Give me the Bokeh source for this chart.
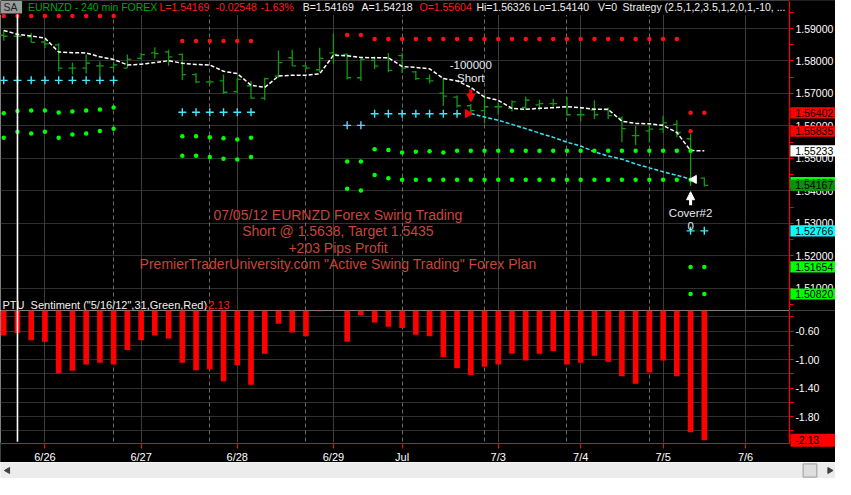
import math
from bokeh.plotting import figure
from bokeh.layouts import column
from bokeh.models import (Range1d, FixedTicker, NumeralTickFormatter, Grid, Label, LinearAxis,
                          ColumnDataSource, Arrow, NormalHead, BoxAnnotation)
from bokeh.transform import dodge
from bokeh.core.properties import value
from bokeh.embed import file_html
from bokeh.resources import INLINE

FONT = "Liberation Sans"

# ---------------- data (EURNZD 240 min bars, index 0..51) ----------------
bars = list(range(52))
opens = [1.58792, 1.58762, 1.58741, 1.58584, 1.58494, 1.57780, 1.57780, 1.57849, 1.57801, 1.57780,
         1.58078, 1.58247, 1.58277, 1.58206, 1.57581, 1.57355, 1.57385, 1.57057, 1.57236, 1.56858,
         1.57533, 1.58099, 1.57849, 1.57730, 1.58247, 1.58206, 1.57483, 1.58018, 1.58099, 1.58167,
         1.57661, 1.57453, 1.57007, 1.56888, 1.56620, 1.56471, 1.56590, 1.56540, 1.56569, 1.56650,
         1.56688, 1.56590, 1.56343, 1.56492, 1.56492, 1.56242, 1.55698, 1.55846, 1.55897, 1.56046,
         1.55604, 1.54389]
highs = [1.58940, 1.58881, 1.58872, 1.58658, 1.58545, 1.57950, 1.58197, 1.57980, 1.57950, 1.58197,
         1.58247, 1.58426, 1.58345, 1.58227, 1.57632, 1.57423, 1.57581, 1.57483, 1.57385, 1.57483,
         1.58325, 1.58345, 1.57878, 1.58405, 1.58842, 1.58227, 1.58078, 1.58137, 1.58247, 1.58256,
         1.57691, 1.57581, 1.57483, 1.56938, 1.56679, 1.56986, 1.56709, 1.56790, 1.56909, 1.56807,
         1.56837, 1.56888, 1.56540, 1.56790, 1.56569, 1.56293, 1.55995, 1.56046, 1.56314, 1.56174,
         1.55757, 1.54410]
lows = [1.58622, 1.58673, 1.58575, 1.58396, 1.57682, 1.57581, 1.57617, 1.57533, 1.57730, 1.57780,
        1.58048, 1.58078, 1.57849, 1.57414, 1.57313, 1.57275, 1.56986, 1.57016, 1.56837, 1.56790,
        1.57483, 1.57849, 1.57730, 1.57652, 1.57908, 1.57432, 1.57385, 1.57750, 1.57652, 1.57632,
        1.57414, 1.57304, 1.56620, 1.56560, 1.56322, 1.56076, 1.56352, 1.56442, 1.56492, 1.56471,
        1.56590, 1.56314, 1.56144, 1.56212, 1.56212, 1.55498, 1.55400, 1.55498, 1.55778, 1.55647,
        1.54151, 1.54130]
closes = [1.58762, 1.58762, 1.58575, 1.58524, 1.57780, 1.57780, 1.57929, 1.57849, 1.57878, 1.58048,
          1.58197, 1.58227, 1.58128, 1.57581, 1.57355, 1.57355, 1.57036, 1.57432, 1.56858, 1.57453,
          1.57950, 1.57849, 1.57780, 1.58078, 1.58206, 1.57483, 1.58048, 1.57840, 1.57712, 1.57780,
          1.57453, 1.57385, 1.56918, 1.56620, 1.56471, 1.56590, 1.56590, 1.56739, 1.56790, 1.56688,
          1.56688, 1.56343, 1.56343, 1.56343, 1.56314, 1.55915, 1.55698, 1.55897, 1.56093, 1.55796,
          1.54329, 1.54169]

# white trailing line
trail = [1.58940, 1.58822, 1.58771, 1.58703, 1.58277, 1.58256, 1.58247, 1.58128, 1.58048, 1.57878,
         1.57899, 1.57950, 1.58009, 1.57929, 1.57890, 1.57878, 1.57682, 1.57611, 1.57254, 1.57185,
         1.57533, 1.57563, 1.57563, 1.57602, 1.58176, 1.58158, 1.58107, 1.58099, 1.58099, 1.57831,
         1.57801, 1.57759, 1.57462, 1.57385, 1.57185, 1.56888, 1.56790, 1.56540, 1.56510, 1.56540,
         1.56560, 1.56590, 1.56560, 1.56510, 1.56510, 1.56144, 1.56076, 1.56064, 1.56016, 1.55796,
         1.55240, 1.55233]

# cyan target line (during the short trade)
cyan_bars = [34, 35, 36, 37, 38, 39, 40, 41, 42, 43, 44, 45, 46, 47, 48, 49, 50]
cyan_vals = [1.56380, 1.56272, 1.56174, 1.56046, 1.55915, 1.55778, 1.55647, 1.55498, 1.55379,
             1.55201, 1.55073, 1.54975, 1.54826, 1.54707, 1.54588, 1.54478, 1.54359]

# cyan crosses
cross_bars = [0, 1, 2, 3, 4, 5, 6, 7, 8, 13, 14, 15, 16, 17, 18, 25, 26,
              27, 28, 29, 30, 31, 32, 33, 50, 51]
cross_vals = [1.57402, 1.57402, 1.57402, 1.57402, 1.57402, 1.57402, 1.57402, 1.57402, 1.57402,
              1.56421, 1.56421, 1.56421, 1.56421, 1.56421, 1.56421, 1.56016, 1.56016,
              1.56373, 1.56373, 1.56373, 1.56373, 1.56373, 1.56373, 1.56373, 1.52766, 1.52766]

# red dots
red_bars = [0, 1, 2, 3, 4, 5, 6, 7, 8, 13, 14, 15, 16, 17, 18, 25, 26,
            27, 28, 29, 30, 31, 32, 33, 34, 35, 36, 37, 38, 39, 40, 41, 42, 43, 44, 45, 46, 47, 48, 49,
            50, 51, 50]
red_vals = [1.59387, 1.59387, 1.59387, 1.59387, 1.59387, 1.59387, 1.59387, 1.59387, 1.59387,
            1.58613, 1.58613, 1.58613, 1.58613, 1.58613, 1.58613, 1.58801, 1.58801,
            1.58673, 1.58673, 1.58673, 1.58673, 1.58673, 1.58673, 1.58673, 1.58673, 1.58673, 1.58673,
            1.58673, 1.58673, 1.58673, 1.58673, 1.58673, 1.58673, 1.58673, 1.58673, 1.58673, 1.58673,
            1.58673, 1.58673, 1.58673,
            1.56402, 1.56402, 1.55835]

# green dots
green_bars = [0, 1, 2, 3, 4, 5, 6, 7, 8,
              0, 1, 2, 3, 4, 5, 6, 7, 8,
              13, 14, 15, 16, 17, 18,
              13, 14, 15, 16, 17, 18,
              25, 26, 25, 26,
              27, 28, 29, 30, 31, 32, 33, 34, 35, 36, 37, 38, 39, 40, 41, 42, 43, 44, 45, 46, 47, 48, 49, 50,
              27, 28, 29, 30, 31, 32, 33, 34, 35, 36, 37, 38, 39, 40, 41, 42, 43, 44, 45, 46, 47, 48, 49, 50,
              50, 51, 50, 51]
green_vals = [1.56391, 1.56462, 1.56471, 1.56471, 1.56412, 1.56442, 1.56471, 1.56501, 1.56569,
              1.55638, 1.55817, 1.55766, 1.55817, 1.55638, 1.55737, 1.55766, 1.55846, 1.55915,
              1.55677, 1.55677, 1.55647, 1.55617, 1.55579, 1.55638,
              1.55082, 1.55082, 1.55043, 1.54984, 1.54963, 1.55043,
              1.54903, 1.54903, 1.54061, 1.54011,
              1.55281, 1.55260, 1.55183, 1.55201, 1.55222, 1.55183, 1.55231, 1.55231, 1.55231, 1.55231,
              1.55231, 1.55231, 1.55231, 1.55231, 1.55231, 1.55231, 1.55231, 1.55231, 1.55231, 1.55231,
              1.55231, 1.55231, 1.55231, 1.55231,
              1.54487, 1.54389, 1.54338, 1.54338, 1.54338, 1.54338, 1.54338, 1.54338, 1.54338, 1.54338,
              1.54338, 1.54338, 1.54338, 1.54338, 1.54338, 1.54338, 1.54338, 1.54338, 1.54338, 1.54338,
              1.54338, 1.54338, 1.54338, 1.54338,
              1.51654, 1.51654, 1.50820, 1.50820]

# PTU_Sentiment histogram
sentiment = [-0.660, -0.627, -0.728, -0.750, -1.189, -1.157, -1.067, -1.044, -1.067, -0.863,
             -0.728, -0.660, -0.705, -1.044, -1.148, -1.135, -1.302, -1.080, -1.352, -0.918,
             -0.497, -0.619, -0.673, -0.320, -0.200, -0.750, -0.379, -0.478, -0.538, -0.555,
             -0.650, -0.673, -0.962, -1.121, -1.216, -1.098, -1.067, -0.918, -1.012, -0.918,
             -0.877, -1.067, -1.044, -0.945, -1.030, -1.234, -1.338, -1.180, -1.012, -1.234,
             -2.017, -2.130]

# trade
entry_bar, entry_price = 34, 1.5638
exit_bar, exit_price = 50, 1.5435
cursor_bar = 1

# axes
price_ticks = [1.51, 1.52, 1.53, 1.54, 1.55, 1.56, 1.57, 1.58, 1.59]
price_minor = [1.505, 1.515, 1.525, 1.535, 1.545, 1.555, 1.565, 1.575, 1.585, 1.595]
sent_ticks = [-0.6, -1.0, -1.4, -1.8]
sent_minor = [-0.4, -0.8, -1.2, -1.6, -2.0]
sent_grid = [-0.4, -0.6, -0.8, -1.0, -1.2, -1.4, -1.6, -1.8, -2.0]
date_ticks = [3, 10, 17, 24, 29, 36, 42, 48, 54]
date_labels = ["6/26", "6/27", "6/28", "6/29", "Jul", "7/3", "7/4", "7/5", "7/6"]
day_lines = [3, 10, 17, 24, 36, 42, 48, 54]
session_breaks = [8, 15, 22, 29, 35, 41, 47]

price_box_vals = [1.56402, 1.55835, 1.55233, 1.54252, 1.54167, 1.52766, 1.51654, 1.50820]
price_box_cols = ["#ff0000", "#ff0000", "#ffffff", "#00ff00", "#0a900a", "#00ffff", "#00ff00", "#00ff00"]
sent_last = -2.13

# ---------------- layout helpers (reference pixel -> data position) -------
def xpos(px):
    return (px - 3.3) / 14.0

def ypos(py):
    return 1.59 - (py - 29) / 3361.0

def spos(py):
    return -0.6 - (py - 342.3) / 73.67

PX_PRICE = 1 / 3361.0      # price units per reference pixel
PX_SENT = 1 / 73.67        # sentiment units per reference pixel

W = 835
GREEN_BAR = "#119a11"
AXIS_FS = "10.5px"
x_lo, x_hi = xpos(0), xpos(851)
x_axis_at = xpos(804)
s_top, s_axis, s_bottom = spos(321), spos(458), spos(478)

common = dict(output_backend="svg", toolbar_location=None, background_fill_color="black",
              border_fill_color="black", outline_line_color=None,
              min_border_left=0, min_border_right=0, min_border_top=0, min_border_bottom=0)


def style_yaxis(ax, ticks, minor, fmt):
    ax.ticker = FixedTicker(ticks=ticks, minor_ticks=minor)
    ax.formatter = NumeralTickFormatter(format=fmt)
    ax.axis_line_color = "red"
    ax.axis_line_width = 1.2
    ax.major_tick_line_color = "red"
    ax.minor_tick_line_color = "red"
    ax.major_tick_in = 0
    ax.major_tick_out = 4
    ax.minor_tick_in = 0
    ax.minor_tick_out = 4
    ax.major_label_text_color = "white"
    ax.major_label_text_font = FONT
    ax.major_label_text_font_size = AXIS_FS
    ax.major_label_standoff = 2


def add_vgrids(fig):
    fig.add_layout(Grid(dimension=0, ticker=FixedTicker(ticks=day_lines), grid_line_color="#3c3c3c"))
    fig.add_layout(Grid(dimension=0, ticker=FixedTicker(ticks=session_breaks),
                        grid_line_color="#6a6a6a", grid_line_dash="4 3"))


def value_box(fig, v, text, color, half_h):
    fig.add_layout(BoxAnnotation(left=xpos(805), right=x_hi + 1, top=v + half_h, bottom=v - half_h,
                                 fill_color=color, fill_alpha=1.0, line_color=None))
    fig.add_layout(Label(x=xpos(810), y=v, text=text, text_color="black", text_font=FONT,
                         text_font_size=AXIS_FS, text_baseline="middle", text_align="left"))


xr = Range1d(x_lo, x_hi)

# ---------------- price panel ----------------
p = figure(width=W, height=310, x_range=xr, y_range=Range1d(ypos(321), ypos(0)),
           x_axis_location=None, y_axis_location=None, **common)
p.xgrid.visible = False
p.ygrid.visible = False
p.add_layout(Grid(dimension=1, ticker=FixedTicker(ticks=price_ticks), grid_line_color="#303030"))
add_vgrids(p)
pya = LinearAxis(fixed_location=x_axis_at)
style_yaxis(pya, price_ticks, price_minor, "0.00000")
p.add_layout(pya, "right")

# header background, axis area background, SA box
p.quad(left=[x_lo - 1], right=[x_hi + 1], top=[ypos(-3)], bottom=[ypos(14.5)], color="black")
p.quad(left=[x_axis_at], right=[x_hi + 1], top=[ypos(-3)], bottom=[ypos(330)], color="black")
p.quad(left=[xpos(0)], right=[xpos(22)], top=[ypos(0.5)], bottom=[ypos(13.5)],
       fill_color="#9a9a9a", line_color=None)

src = ColumnDataSource(dict(bar=bars, o=opens, h=highs, l=lows, c=closes))
p.segment(x0="bar", y0="l", x1="bar", y1="h", source=src, line_color=GREEN_BAR, line_width=1.3)
p.segment(x0=dodge("bar", -0.28), y0="o", x1="bar", y1="o", source=src, line_color=GREEN_BAR, line_width=1.3)
p.segment(x0="bar", y0="c", x1=dodge("bar", 0.28), y1="c", source=src, line_color=GREEN_BAR, line_width=1.3)

p.line(bars, trail, line_color="white", line_width=1.5, line_dash="4 2")
p.line(cyan_bars, cyan_vals, line_color="#38e4f4", line_width=1.5, line_dash="4 2")
p.scatter(cross_bars, cross_vals, marker="cross", size=8, line_color="#40e8ff", line_width=1.4)
p.scatter(red_bars, red_vals, marker="circle", size=4.5, fill_color="#ff1010", line_color=None)
p.scatter(green_bars, green_vals, marker="circle", size=4.5, fill_color="#00ff00", line_color=None)

# trade markers
tsrc = ColumnDataSource(dict(bar=[entry_bar], y=[entry_price]))
p.scatter(x=dodge("bar", -0.22), y="y", source=tsrc, marker="triangle", angle=-math.pi / 2,
          size=8, fill_color="red", line_color="red")
csrc = ColumnDataSource(dict(bar=[exit_bar], y=[exit_price]))
p.scatter(x=dodge("bar", 0.25), y="y", source=csrc, marker="triangle", angle=math.pi / 2,
          size=8, fill_color="white", line_color="white")
p.add_layout(Arrow(end=NormalHead(size=8, fill_color="red", line_color="red"),
                   x_start=entry_bar, y_start=ypos(92), x_end=entry_bar, y_end=ypos(105),
                   line_color="red", line_width=3))
p.add_layout(Arrow(end=NormalHead(size=8, fill_color="white", line_color="white"),
                   x_start=exit_bar, y_start=ypos(212), x_end=exit_bar, y_end=ypos(198),
                   line_color="white", line_width=3))
p.text(x=[entry_bar, entry_bar, exit_bar, exit_bar],
       y=[ypos(66.5), ypos(80.5), ypos(220.5), ypos(233.5)],
       text=["-100000", "Short", "Cover#2", "0"], text_color="#e6ecf5",
       text_font=value(FONT), text_font_size="11.5px", text_align="center", text_baseline="middle")

# cursor line
p.segment(x0=[cursor_bar], y0=[ypos(14.5)], x1=[cursor_bar], y1=[ypos(321)],
          line_color="white", line_width=1.6)

# annotation text
note_lines = ["07/05/12 EURNZD Forex Swing Trading", "Short @ 1.5638, Target 1.5435",
              "+203 Pips Profit",
              "PremierTraderUniversity.com \"Active Swing Trading\" Forex Plan"]
p.text(x=[xpos(344)] * 4, y=[ypos(221.7), ypos(239), ypos(256.7), ypos(273.3)], text=note_lines,
       text_color="#c4473a", text_font=value(FONT), text_font_size="14px",
       text_align="center", text_baseline="middle")

# header text
hdr_x = [3, 28, 123, 162, 219, 265, 308, 368, 427, 485, 543, 609, 634]
hdr_t = ["SA", "EURNZD - 240 min", "FOREX", "L=1.54169", "-0.02548", "-1.63%", "B=1.54169",
         "A=1.54218", "O=1.55604", "Hi=1.56326", "Lo=1.54140", "V=0",
         "Strategy (2.5,1,2,3.5,1,2,0,1,-10, ..."]
hdr_c = ["#1e1e1e", "#00a800", "#00a800", "#ff1c1c", "#ff1c1c", "#ff1c1c", "#f0f0f0", "#f0f0f0",
         "#ff1c1c", "#f0f0f0", "#f0f0f0", "#f0f0f0", "#f0f0f0"]
p.text(x=[xpos(v) for v in hdr_x], y=[ypos(7)] * len(hdr_x), text=hdr_t, text_color=hdr_c,
       text_font=value(FONT), text_font_size="10.5px", text_align="left", text_baseline="middle")

# indicator title
p.text(x=[xpos(2), xpos(208)], y=[ypos(315)] * 2,
       text=["PTU_Sentiment (\"5/16/12\",31,Green,Red)", "-2.13"], text_color=["#f0f0f0", "#ff1c1c"],
       text_font=value(FONT), text_font_size="11px", text_align="left", text_baseline="middle")

for v, c in zip(price_box_vals, price_box_cols):
    value_box(p, v, f"{v:.5f}", c, 5.8 * PX_PRICE)

# ---------------- indicator panel (frame includes the date-label strip) ----------------
p2 = figure(width=W, frame_height=152, x_range=xr, y_range=Range1d(s_bottom, s_top),
            y_axis_location=None, x_axis_location=None, **common)
p2.xgrid.visible = False
p2.ygrid.visible = False
p2.add_layout(Grid(dimension=1, ticker=FixedTicker(ticks=sent_grid), grid_line_color="#303030"))
add_vgrids(p2)
# black strip under the time axis and in the price-axis area
p2.quad(left=[x_lo - 1], right=[x_hi + 1], top=[s_axis], bottom=[s_bottom - 1], color="black")
p2.quad(left=[x_axis_at], right=[x_hi + 1], top=[0], bottom=[s_bottom - 1], color="black")

sya = LinearAxis(fixed_location=x_axis_at)
style_yaxis(sya, sent_ticks, sent_minor, "0.00")
sya.bounds = (s_axis, s_top)
p2.add_layout(sya, "right")

xa = LinearAxis(fixed_location=s_axis)
xa.ticker = FixedTicker(ticks=date_ticks)
xa.major_label_overrides = {t: s for t, s in zip(date_ticks, date_labels)}
xa.bounds = (x_lo, x_axis_at)
xa.axis_line_color = "red"
xa.axis_line_width = 1.2
xa.major_tick_line_color = "red"
xa.minor_tick_line_color = None
xa.major_tick_in = 0
xa.major_tick_out = 5
xa.major_label_text_color = "white"
xa.major_label_text_font = FONT
xa.major_label_text_font_size = "11px"
xa.major_label_standoff = 3
p2.add_layout(xa, "below")

scol = ["#00c000" if v > 0 else "#ff0000" for v in sentiment]
ssrc = ColumnDataSource(dict(bar=bars, v=sentiment, col=scol))
p2.vbar(x="bar", top=0, bottom="v", width=0.41, fill_color="col", line_color=None, source=ssrc)
p2.segment(x0=[cursor_bar], y0=[s_top + 1], x1=[cursor_bar], y1=[spos(456.5)],
           line_color="white", line_width=1.6)
value_box(p2, sent_last, f"{sent_last:.2f}", "#ff0000", 6.8 * PX_SENT)

# ---------------- scrollbar strip ----------------
ps = figure(width=W, height=16, x_range=Range1d(0, 851), y_range=Range1d(0, 17),
            x_axis_location=None, y_axis_location=None, output_backend="svg", toolbar_location=None,
            background_fill_color="#ececec", border_fill_color="#ececec", outline_line_color=None,
            min_border_left=0, min_border_right=0, min_border_top=0, min_border_bottom=0)
ps.xgrid.visible = False
ps.ygrid.visible = False
ps.quad(left=[818], right=[832], top=[15.5], bottom=[1.5], fill_color="#dedede", line_color="#9a9a9a")
ps.scatter(x=[7.5], y=[8.5], marker="triangle", angle=math.pi / 2, size=6, color="#404040")
ps.scatter(x=[845], y=[8.5], marker="triangle", angle=-math.pi / 2, size=6, color="#404040")

layout = column(p, p2, ps, spacing=0)
open("out.html", "w").write(file_html(layout, INLINE))
